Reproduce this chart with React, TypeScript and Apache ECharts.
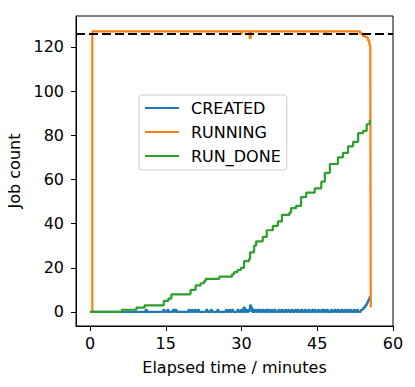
import React, { useEffect, useRef } from "react";
import * as echarts from "echarts";

const FONT = "DejaVu Sans";
const FS = 16;

const seriesNames = ["CREATED", "RUNNING", "RUN_DONE"];
const xTicks = [0, 15, 30, 45, 60];
const yTicks = [0, 20, 40, 60, 80, 100, 120];
const totalJobs = 126;

// [minutes, count] pairs, step-post
const createdPoints: [number, number][] = [
  [0, 0], [11.0, 1], [11.25, 0], [14.5, 1], [14.75, 0], [15.3, 1], [15.55, 0],
  [16.4, 1], [16.65, 0], [16.9, 1], [17.15, 0], [19.5, 1], [19.75, 0],
  [20.1, 1], [20.35, 0], [20.7, 1], [20.95, 0], [21.3, 1], [21.6, 0],
  [23.0, 1], [23.25, 0], [23.9, 1], [24.15, 0], [25.2, 1], [25.45, 0],
  [26.9, 1], [27.15, 0], [27.5, 1], [27.75, 0], [28.1, 1], [28.35, 0],
  [29.2, 1], [29.45, 0], [29.9, 1], [30.15, 0], [30.4, 2], [30.65, 0],
  [30.9, 1], [31.15, 0], [31.4, 1], [31.6, 0], [31.7, 3], [31.9, 2],
  [32.1, 0], [32.3, 1], [32.5, 0], [32.7, 1], [32.95, 0], [33.2, 1],
  [33.45, 0], [33.6, 1], [33.85, 0], [34.2, 1], [34.45, 0], [34.8, 1],
  [35.05, 0], [35.3, 1], [35.55, 0], [35.9, 1], [36.15, 0], [36.5, 1],
  [36.75, 0], [37.3, 1], [37.55, 0], [37.9, 1], [38.15, 0], [38.6, 1],
  [38.85, 0], [39.2, 1], [39.45, 0], [39.9, 1], [40.15, 0], [40.6, 1],
  [40.85, 0], [41.1, 1], [41.35, 0], [41.8, 1], [42.05, 0], [42.5, 1],
  [42.75, 0], [43.2, 1], [43.45, 0], [43.9, 1], [44.15, 0], [44.4, 1],
  [44.65, 0], [45.1, 1], [45.35, 0], [45.8, 1], [46.05, 0], [46.3, 1],
  [46.55, 0], [46.9, 1], [47.15, 0], [47.7, 1], [47.95, 0], [48.4, 1],
  [48.65, 0], [49.0, 1], [49.25, 0], [49.7, 1], [49.95, 0], [50.3, 1],
  [50.55, 0], [50.9, 1], [51.15, 0], [51.5, 1], [51.75, 0], [52.2, 1],
  [52.45, 0], [52.8, 1], [53.05, 0], [53.6, 1], [54.1, 2], [54.5, 3],
  [54.8, 4], [55.0, 5], [55.2, 6], [55.4, 7], [55.55, 7],
];

const runningPoints: [number, number][] = [
  [0, 0], [0.45, 127], [29.8, 126], [30.0, 127], [31.6, 124], [31.85, 127],
  [46.5, 126], [46.75, 127], [53.5, 126], [54.0, 125], [54.5, 124.5],
  [55.0, 123], [55.3, 121], [55.5, 118], [55.6, 2],
];

const runDonePoints: [number, number][] = [
  [0, 0], [6.3, 1], [9.2, 2], [10.8, 3], [14.6, 5], [15.5, 6], [16.1, 8],
  [19.9, 10], [20.9, 12], [21.9, 13], [22.6, 14], [22.9, 15], [25.6, 16],
  [28.1, 17], [28.5, 18], [29.2, 19], [29.9, 20], [30.5, 23], [31.5, 24],
  [31.7, 27], [32.5, 30], [32.9, 32], [34.2, 34], [35.0, 37], [36.2, 39],
  [37.2, 41], [38.0, 44], [39.5, 45], [39.8, 47], [40.8, 48], [41.8, 52],
  [42.8, 54], [44.5, 56], [45.8, 59], [46.5, 63], [47.5, 67], [49.1, 70],
  [50.1, 72], [51.1, 75], [52.1, 77], [53.1, 81], [54.1, 82], [54.8, 85],
  [55.4, 87],
];

const colors = ["#1f77b4", "#ff7f0e", "#2ca02c"];

export default function App() {
  const ref = useRef<HTMLDivElement>(null);
  useEffect(() => {
    if (!ref.current) return;
    const chart = echarts.init(ref.current, null, { renderer: "svg" });
    const axisCommon = {
      type: "value" as const,
      splitLine: { show: false },
      axisLine: { show: true, onZero: false, lineStyle: { color: "#000", width: 1 } },
      nameLocation: "middle" as const,
      nameTextStyle: { fontSize: FS, color: "#000", fontFamily: FONT },
    };
    const dataSets = [createdPoints, runningPoints, runDonePoints];
    chart.setOption({
      animation: false,
      textStyle: { fontFamily: FONT },
      color: colors,
      grid: {
        left: 68,
        top: 8,
        width: 317,
        height: 310,
        outerBoundsMode: "none",
        containLabel: false,
        show: true,
        borderColor: "#000",
        borderWidth: 1,
        backgroundColor: "#fff",
      },
      legend: {
        orient: "vertical",
        left: 131,
        top: 87,
        itemWidth: 34,
        itemHeight: 2,
        itemGap: 8,
        icon: "rect",
        padding: [5, 6, 6, 6],
        backgroundColor: "rgba(255,255,255,0.8)",
        borderColor: "#cccccc",
        borderWidth: 1,
        borderRadius: 3,
        textStyle: { fontSize: FS, color: "#000", fontFamily: FONT, padding: [0, 0, 0, 7] },
        data: seriesNames,
      },
      xAxis: {
        ...axisCommon,
        min: -2.78,
        max: 60,
        name: "Elapsed time / minutes",
        nameGap: 33,
        axisTick: { show: true, length: 5, customValues: xTicks, lineStyle: { color: "#000" } },
        axisLabel: { customValues: xTicks, color: "#000", fontSize: FS, margin: 9, fontFamily: FONT },
      },
      yAxis: {
        ...axisCommon,
        min: -6.35,
        max: 134,
        name: "Job count",
        nameGap: 47.5,
        axisTick: { show: true, length: 5, customValues: yTicks, lineStyle: { color: "#000" } },
        axisLabel: { customValues: yTicks, color: "#000", fontSize: FS, margin: 12, fontFamily: FONT },
      },
      series: seriesNames.map((name, i) => ({
        name,
        type: "line",
        step: "end",
        showSymbol: false,
        symbol: "none",
        data: dataSets[i],
        lineStyle: { width: 2.2, color: colors[i] },
        itemStyle: { color: colors[i] },
        z: 2 + i,
        ...(i === 2
          ? {
              markLine: {
                silent: true,
                symbol: "none",
                label: { show: false },
                lineStyle: { color: "#000", type: [9, 4], width: 2 },
                data: [{ yAxis: totalJobs }],
              },
            }
          : {}),
      })),
    });
    return () => chart.dispose();
  }, []);
  return <div ref={ref} style={{ width: 407, height: 379 }} />;
}
